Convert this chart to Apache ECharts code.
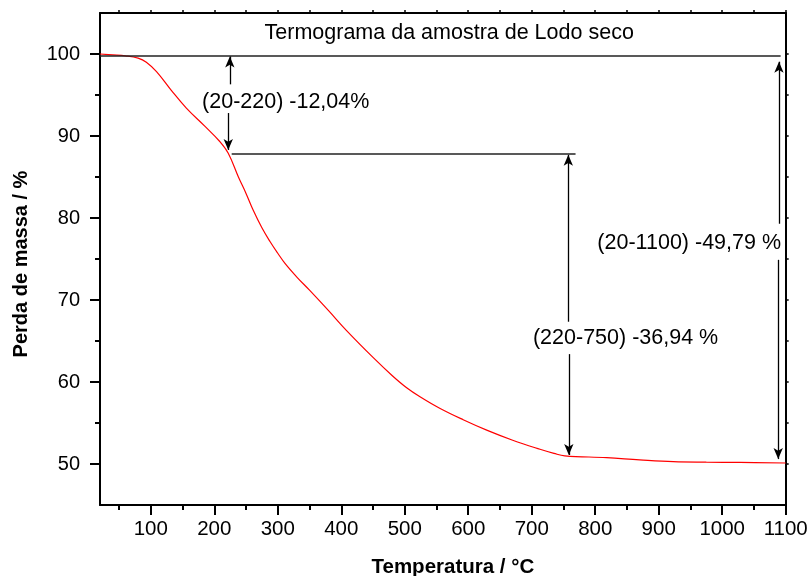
<!DOCTYPE html>
<html><head><meta charset="utf-8">
<script src="https://cdn.jsdelivr.net/npm/echarts@6/dist/echarts.min.js"></script>
<style>html,body{margin:0;padding:0;background:#fff}#c{width:810px;height:576px}</style>
</head><body><div id="c"></div>
<script>
// Curve (Temperatura / °C vs Perda de massa / %)
const temperature = [20, 40, 60, 80, 93, 109, 132, 156, 185, 209, 222, 238, 250, 261, 275, 288, 300, 312, 330, 350, 380, 408, 450, 480, 503, 524, 555, 592, 630, 670, 713, 735, 752, 818, 870, 923, 975, 1028, 1100];
const massPercent = [100.0, 99.9, 99.78, 99.5, 99.0, 97.85, 95.6, 93.4, 91.2, 89.3, 87.9, 85.0, 83.0, 81.0, 78.8, 77.1, 75.7, 74.4, 72.8, 71.2, 68.7, 66.3, 63.0, 60.8, 59.3, 58.2, 56.8, 55.4, 54.1, 52.9, 51.8, 51.3, 51.0, 50.77, 50.5, 50.28, 50.22, 50.2, 50.12];

// Tick values
const xMajorTicks = [100, 200, 300, 400, 500, 600, 700, 800, 900, 1000, 1100];
const xMinorTicks = [50, 150, 250, 350, 450, 550, 650, 750, 850, 950, 1050];
const xTopTicks = [50, 100, 150, 200, 250, 300, 350, 400, 450, 500, 550, 600, 650, 700, 750, 800, 850, 900, 950, 1000, 1050, 1100];
const yMajorTicks = [50, 60, 70, 80, 90, 100];
const yMinorTicks = [55, 65, 75, 85, 95];
const yRightTicks = [50, 55, 60, 65, 70, 75, 80, 85, 90, 95, 100];

// Texts
const titleText = 'Termograma da amostra de Lodo seco';
const xName = 'Temperatura / °C';
const yName = 'Perda de massa / %';
const annotationTexts = ['(20-220) -12,04%', '(220-750) -36,94 %', '(20-1100) -49,79 %'];

// Annotation geometry in data units (T, mass %)
const titleAnchor = [570, 102.5];
const annotationAnchors = [[312.5, 94.18], [847.8, 65.33], [948, 76.9]];
const refLines = [
  [[20, 99.84], [1092, 99.84]],
  [[227.4, 87.84], [769, 87.84]]
];
const arrowSegments = [
  [[224.5, 96.3], [224.5, 99.7]],
  [[222, 92.8], [222, 88.3]],
  [[757.6, 67.35], [757.6, 87.7]],
  [[758.4, 63.4], [758.4, 51.1]],
  [[1089.4, 79.3], [1089.4, 99.06]],
  [[1088.2, 74.9], [1088.2, 50.6]]
];

const FONT = "'Liberation Sans', Arial, sans-serif";
const chart = echarts.init(document.getElementById('c'), null, {renderer: 'canvas'});

const baseX = {type: 'value', min: 20, max: 1100, gridIndex: 0, splitLine: {show: false}};
const baseY = {type: 'value', min: 45, max: 105, gridIndex: 0, splitLine: {show: false}};
const axisLineStyle = {color: '#000', width: 2};
const plain = v => String(v);

const markLineData = [];
refLines.forEach(s => markLineData.push([
  {coord: s[0], symbol: 'none', lineStyle: {color: '#222', width: 1.5}},
  {coord: s[1], symbol: 'none'}
]));
arrowSegments.forEach(s => markLineData.push([
  {coord: s[0], symbol: 'none'},
  {coord: s[1], symbol: 'arrow', symbolSize: [7, 11]}
]));

const labelData = [[titleAnchor[0], titleAnchor[1], titleText]];
annotationTexts.forEach((t, i) => labelData.push([annotationAnchors[i][0], annotationAnchors[i][1], t]));

chart.setOption({
  animation: false,
  backgroundColor: '#fff',
  grid: {left: 100, right: 24.3, top: 13, bottom: 71, containLabel: false, outerBoundsMode: 'none'},
  xAxis: [
    Object.assign({}, baseX, {
      position: 'bottom',
      axisLine: {show: true, onZero: false, lineStyle: axisLineStyle},
      axisTick: {show: true, customValues: xMajorTicks, length: 10, lineStyle: {color: '#000', width: 2}},
      axisLabel: {show: true, customValues: xMajorTicks, formatter: plain, fontSize: 20.5, color: '#000', fontFamily: FONT, margin: 14},
      name: xName, nameLocation: 'middle', nameGap: 52,
      nameTextStyle: {fontSize: 20.5, fontWeight: 'bold', color: '#000', fontFamily: FONT, padding: [0, 0, 0, 20]}
    }),
    Object.assign({}, baseX, {
      position: 'bottom',
      axisLine: {show: false, onZero: false},
      axisTick: {show: true, customValues: xMinorTicks, length: 5, lineStyle: {color: '#000', width: 2}},
      axisLabel: {show: false}
    }),
    Object.assign({}, baseX, {
      position: 'top',
      axisLine: {show: true, onZero: false, lineStyle: axisLineStyle},
      axisTick: {show: true, customValues: xTopTicks, length: 3, lineStyle: {color: '#000', width: 1.5}},
      axisLabel: {show: false}
    })
  ],
  yAxis: [
    Object.assign({}, baseY, {
      position: 'left',
      axisLine: {show: true, onZero: false, lineStyle: axisLineStyle},
      axisTick: {show: true, customValues: yMajorTicks, length: 10, lineStyle: {color: '#000', width: 2}},
      axisLabel: {show: true, customValues: yMajorTicks, formatter: plain, fontSize: 20, color: '#000', fontFamily: FONT, margin: 20},
      name: yName, nameLocation: 'middle', nameGap: 69,
      nameTextStyle: {fontSize: 20, fontWeight: 'bold', color: '#000', fontFamily: FONT, padding: [0, 10, 0, 0]}
    }),
    Object.assign({}, baseY, {
      position: 'left',
      axisLine: {show: false, onZero: false},
      axisTick: {show: true, customValues: yMinorTicks, length: 5, lineStyle: {color: '#000', width: 2}},
      axisLabel: {show: false}
    }),
    Object.assign({}, baseY, {
      position: 'right',
      axisLine: {show: true, onZero: false, lineStyle: axisLineStyle},
      axisTick: {show: true, customValues: yRightTicks, length: 3, lineStyle: {color: '#000', width: 1.5}},
      axisLabel: {show: false}
    })
  ],
  series: [
    {
      type: 'line',
      xAxisIndex: 0, yAxisIndex: 0,
      data: temperature.map((t, i) => [t, massPercent[i]]),
      smooth: 0.4,
      showSymbol: false,
      symbol: 'none',
      lineStyle: {color: '#ff0000', width: 1.2},
      silent: true,
      z: 3
    },
    {
      type: 'scatter',
      xAxisIndex: 0, yAxisIndex: 0,
      data: labelData,
      symbolSize: 1,
      itemStyle: {color: 'rgba(0,0,0,0)'},
      silent: true,
      label: {
        show: true, position: 'inside',
        formatter: p => p.data[2],
        fontSize: 21.5, color: '#000', fontFamily: FONT,
        textBorderWidth: 0, textShadowBlur: 0, opacity: 1
      },
      markLine: {
        silent: true,
        animation: false,
        symbol: ['none', 'arrow'],
        symbolSize: 10,
        label: {show: false},
        emphasis: {disabled: true},
        lineStyle: {color: '#000', width: 1.3, type: 'solid'},
        data: markLineData
      },
      z: 4
    }
  ]
});
</script>
</body></html>
